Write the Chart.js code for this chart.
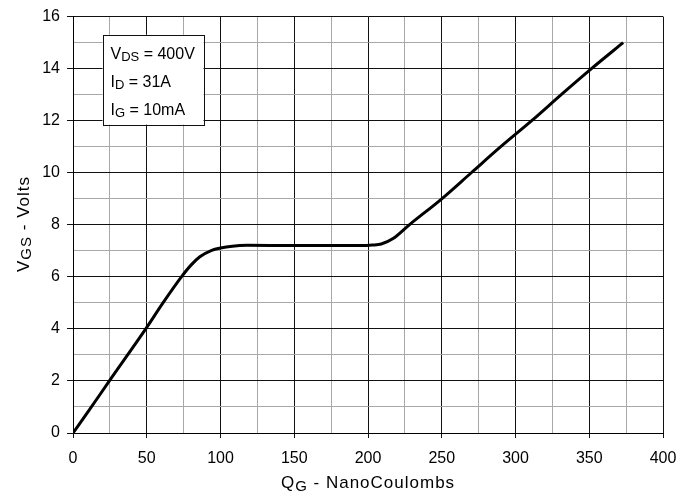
<!DOCTYPE html>
<html>
<head>
<meta charset="utf-8">
<script src="https://cdn.jsdelivr.net/npm/chart.js@4.4.1/dist/chart.umd.min.js"></script>
<style>
  html, body { margin: 0; padding: 0; background: #fff; }
  #wrap { width: 694px; height: 498px; }
</style>
</head>
<body>
<div id="wrap"><canvas id="gateChart" width="694" height="498"></canvas></div>
<script>
// gate charge curve
let qgValues = [0, 10, 25, 49.3, 61, 73.5, 80, 86, 94, 100, 108, 118, 150, 195, 203, 209, 217, 228, 250, 270, 290, 311, 331, 351.5, 373];
let vgsValues = [0, 0.8, 2.03, 4, 5, 6, 6.45, 6.77, 7.02, 7.11, 7.18, 7.21, 7.2, 7.2, 7.22, 7.26, 7.47, 8, 9, 10, 11, 12, 13, 14, 15];

let xTicks = [0, 50, 100, 150, 200, 250, 300, 350, 400];
let yTicks = [0, 2, 4, 6, 8, 10, 12, 14, 16];

let noteLines = [
   ["V", "DS", " = 400V"],
   ["I", "D", " = 31A"],
   ["I", "G", " = 10mA"]
];

let points = qgValues.map((q, i) => ({ x: q, y: vgsValues[i] }));

const FONT = "'Liberation Sans', Arial, sans-serif";

function gridColor(ctx, majors){
   let v = ctx.tick ? ctx.tick.value : null;
   return majors.includes(v) ? "#111" : "#a8a8a8";
}

function tickColor(ctx, majors){
   let v = ctx.tick ? ctx.tick.value : null;
   return majors.includes(v) ? "#111" : "rgba(0,0,0,0)";
}

// text with a subscript part
function subText(c, x, y, parts, size, sub, drop){
   c.font = size + "px " + FONT;
   c.fillText(parts[0], x, y);
   x += c.measureText(parts[0]).width;
   c.font = sub + "px " + FONT;
   c.fillText(parts[1], x, y + drop);
   x += c.measureText(parts[1]).width;
   c.font = size + "px " + FONT;
   c.fillText(parts[2], x, y);
}

function partsWidth(c, parts, size, sub){
   c.font = size + "px " + FONT;
   let w = c.measureText(parts[0]).width + c.measureText(parts[2]).width;
   c.font = sub + "px " + FONT;
   return w + c.measureText(parts[1]).width;
}

let extrasPlugin = {
   id: "extras",
   afterDatasetsDraw(chart){
      let c = chart.ctx;
      let xs = chart.scales.x, ys = chart.scales.y;
      let area = chart.chartArea;

      // condition box
      let bx1 = xs.getPixelForValue(20), bx2 = xs.getPixelForValue(88.5);
      let by1 = ys.getPixelForValue(15.3), by2 = ys.getPixelForValue(11.85);
      c.save();
      c.fillStyle = "#fff";
      c.fillRect(bx1, by1, bx2 - bx1, by2 - by1);
      c.strokeStyle = "#111";
      c.lineWidth = 1;
      c.strokeRect(Math.round(bx1) + 0.5, Math.round(by1) + 0.5, Math.round(bx2 - bx1), Math.round(by2 - by1));
      c.fillStyle = "#000";
      c.textBaseline = "alphabetic";
      c.textAlign = "left";
      noteLines.forEach((parts, i) => {
         subText(c, bx1 + 8, by1 + 24 + i * 28.3, parts, 16, 13, 2);
      });

      // axis titles, a bit spaced out like the original
      if("letterSpacing" in c) c.letterSpacing = "1px";

      let xt = ["Q", "G", " - NanoCoulombs"];
      let w = partsWidth(c, xt, 17, 15);
      subText(c, (area.left + area.right) / 2 - w / 2, 488, xt, 17, 15, 3);

      let yt = ["V", "GS", " - Volts"];
      c.translate(29, 224);
      c.rotate(-Math.PI / 2);
      w = partsWidth(c, yt, 17, 15);
      subText(c, -w / 2, 0, yt, 17, 15, 2);
      c.restore();
   }
};

new Chart(document.getElementById("gateChart"), {
   type: "scatter",
   data: {
      datasets: [{
         data: points,
         showLine: true,
         borderColor: "#000",
         borderWidth: 3,
         pointRadius: 0,
         cubicInterpolationMode: "monotone",
         fill: false
      }]
   },
   options: {
      responsive: false,
      animation: false,
      layout: { padding: { left: 0, top: 12, right: 31, bottom: 0 } },
      plugins: {
         legend: { display: false },
         tooltip: { enabled: false }
      },
      scales: {
         x: {
            type: "linear",
            min: 0,
            max: 400,
            afterFit(scale){ scale.height = 65; },
            ticks: {
               stepSize: 25,
               autoSkip: false,
               maxRotation: 0,
               padding: 11,
               color: "#000",
               font: { family: FONT, size: 16 },
               callback: v => xTicks.includes(v) ? v : ""
            },
            grid: {
               color: ctx => gridColor(ctx, xTicks),
               tickColor: ctx => tickColor(ctx, xTicks),
               tickLength: 5,
               lineWidth: 1
            },
            border: { color: "#000", width: 1 }
         },
         y: {
            type: "linear",
            min: 0,
            max: 16,
            afterFit(scale){ scale.width = 73; },
            ticks: {
               stepSize: 1,
               autoSkip: false,
               padding: 7,
               color: "#000",
               font: { family: FONT, size: 16 },
               callback: v => yTicks.includes(v) ? v : ""
            },
            grid: {
               color: ctx => gridColor(ctx, yTicks),
               tickColor: ctx => tickColor(ctx, yTicks),
               tickLength: 6,
               lineWidth: 1
            },
            border: { color: "#000", width: 1 }
         }
      }
   },
   plugins: [extrasPlugin]
});
</script>
</body>
</html>
